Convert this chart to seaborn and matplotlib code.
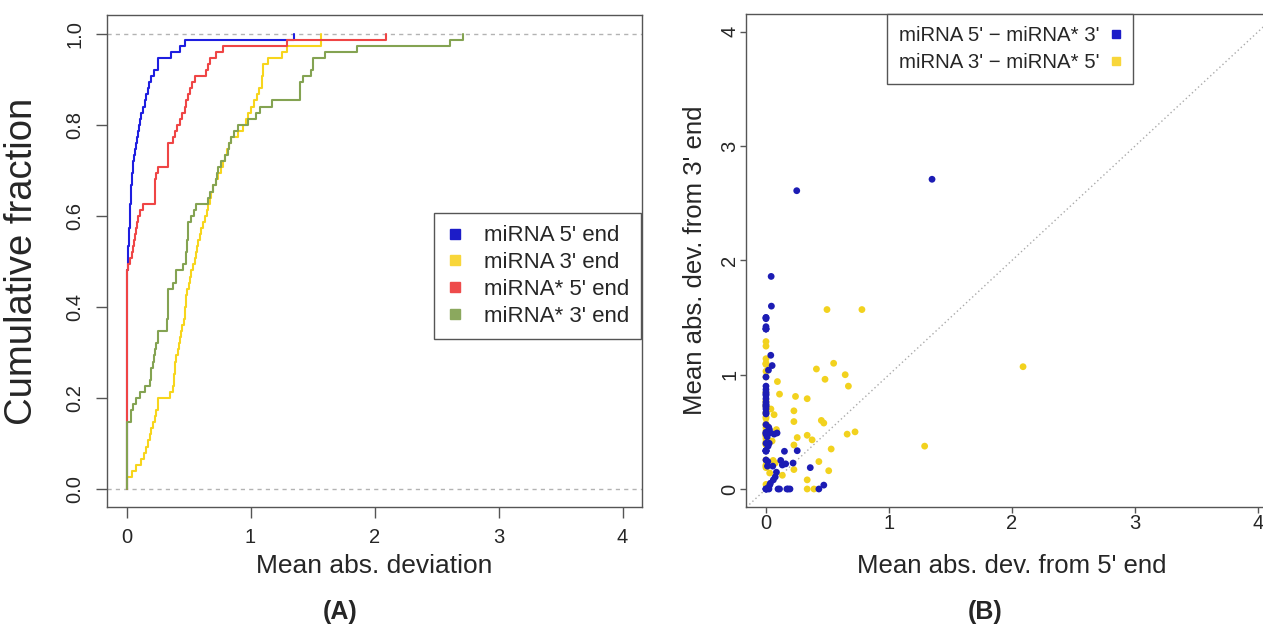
import pandas as pd
import seaborn as sns
import matplotlib.pyplot as plt
from matplotlib.lines import Line2D
from matplotlib.patches import Rectangle

# pair 1 (blue in B): miRNA 5' end vs miRNA* 3' end, one entry per hairpin
mirna5 = [1.35, 0.47, 0.43, 0.36, 0.254, 0.25, 0.22, 0.195, 0.18, 0.17,
          0.16, 0.15, 0.133, 0.12, 0.11, 0.098, 0.09, 0.085, 0.075, 0.066,
          0.06, 0.055, 0.05, 0.044, 0.042, 0.039, 0.036, 0.033, 0.03, 0.028,
          0.026, 0.024, 0.022, 0.02, 0.017, 0.015, 0.012, 0.01, 0.008, 0.005,
          0.0, 0.0, 0.0, 0.0, 0.0, 0.0, 0.0, 0.0, 0.0, 0.0,
          0.0, 0.0, 0.0, 0.0, 0.0, 0.0, 0.0, 0.0, 0.0, 0.0,
          0.0, 0.0, 0.0, 0.0, 0.0, 0.0, 0.0, 0.0, 0.0, 0.0,
          0.0, 0.0, 0.0, 0.0, 0.0]
mirna_star3 = [2.71, 0.034, 0.0, 0.187, 0.335, 2.61, 0.227, 0.0, 0.0, 0.0,
               0.22, 0.33, 0.21, 0.25, 0.0, 0.0, 0.49, 0.147, 0.106, 0.48,
               0.08, 0.2, 1.08, 1.6, 1.86, 1.17, 0.05, 0.493, 0.034, 0.52,
               0.40, 0.0, 0.54, 1.04, 0.375, 0.24, 0.2, 0.456, 0.0, 0.495,
               0.0, 0.0, 0.0, 0.254, 0.33, 0.335, 0.335, 0.335, 0.335, 0.40,
               0.48, 0.49, 0.496, 0.563, 0.657, 0.67, 0.70, 0.72, 0.73, 0.74,
               0.76, 0.79, 0.82, 0.83, 0.845, 0.87, 0.9, 0.98, 1.40, 1.40,
               1.40, 1.42, 1.49, 1.5, 1.5]

# pair 2 (yellow in B): miRNA* 5' end vs miRNA 3' end
mirna_star5 = [2.09, 1.29, 0.78, 0.724, 0.67, 0.66, 0.644, 0.55, 0.53, 0.51,
               0.496, 0.48, 0.47, 0.45, 0.43, 0.41, 0.39, 0.375, 0.335, 0.335,
               0.335, 0.335, 0.254, 0.24, 0.227, 0.227, 0.227, 0.227, 0.133, 0.11,
               0.093, 0.085, 0.075, 0.066, 0.058, 0.05, 0.04, 0.03, 0.012, 0.005,
               0.0, 0.0, 0.0, 0.0, 0.0, 0.0, 0.0, 0.0, 0.0, 0.0,
               0.0, 0.0, 0.0, 0.0, 0.0, 0.0, 0.0, 0.0, 0.0, 0.0,
               0.0, 0.0, 0.0, 0.0, 0.0, 0.0, 0.0, 0.0, 0.0, 0.0,
               0.0, 0.0, 0.0, 0.0, 0.0]
mirna3 = [1.07, 0.375, 1.57, 0.50, 0.90, 0.48, 1.0, 1.10, 0.35, 0.16,
          1.57, 0.96, 0.577, 0.60, 0.24, 1.05, 0.0, 0.43, 0.79, 0.47,
          0.08, 0.0, 0.45, 0.81, 0.684, 0.59, 0.385, 0.17, 0.12, 0.83,
          0.94, 0.52, 0.227, 0.65, 0.25, 0.42, 0.70, 0.14, 0.55, 0.38,
          0.04, 0.187, 0.2, 0.21, 0.254, 0.39, 0.39, 0.40, 0.415, 0.44,
          0.46, 0.47, 0.48, 0.49, 0.51, 0.536, 0.56, 0.57, 0.617, 0.63,
          0.66, 0.67, 0.72, 0.738, 0.76, 0.775, 0.845, 0.98, 1.03, 1.09,
          1.095, 1.10, 1.14, 1.25, 1.29]

end_labels = ["miRNA 5' end", "miRNA 3' end", "miRNA* 5' end", "miRNA* 3' end"]
end_colors = ["#1e1ee0", "#f7d51c", "#ef4545", "#84a352"]
key_colors = ["#1c1cc8", "#f8d63a", "#ee4b4b", "#8ba85e"]
pair_labels = ["miRNA 5' \u2212 miRNA* 3'", "miRNA 3' \u2212 miRNA* 5'"]
pair_colors = ["#1c1cb4", "#f2d21e"]

sns.set_style("white")
plt.rcParams["font.family"] = ["Liberation Sans", "DejaVu Sans"]

ends = pd.concat([
    pd.DataFrame({"dev": vals, "end": lab})
    for vals, lab in zip([mirna5, mirna3, mirna_star5, mirna_star3], end_labels)
], ignore_index=True)
pairs = pd.concat([
    pd.DataFrame({"x": mirna_star5, "y": mirna3, "pair": pair_labels[1]}),
    pd.DataFrame({"x": mirna5, "y": mirna_star3, "pair": pair_labels[0]}),
], ignore_index=True)

fig = plt.figure(figsize=(12.63, 6.33), dpi=100)
ax1 = fig.add_axes([0.0845, 0.1987, 0.4241, 0.7769])
ax2 = fig.add_axes([0.5909, 0.1986, 0.4207, 0.7800])

# ---- (A) cumulative distributions
ax1.axhline(0, color="#b3b3b3", lw=1, ls=(0, (3, 3)), zorder=0)
ax1.axhline(1, color="#b3b3b3", lw=1, ls=(0, (3, 3)), zorder=0)
sns.ecdfplot(data=ends, x="dev", hue="end", hue_order=end_labels[::-1],
             palette=dict(zip(end_labels, end_colors)), lw=1.5, legend=False, ax=ax1)
for ln in ax1.lines[2:]:
    ln.set_clip_path(Rectangle((-0.01, -1), 10, 3, transform=ax1.transData))
ax1.set_xlim(-0.16, 4.16)
ax1.set_ylim(-0.04, 1.04)
ax1.set_xticks([0, 1, 2, 3, 4])
ax1.set_yticks([0, 0.2, 0.4, 0.6, 0.8, 1.0])
ax1.set_yticklabels(["0.0", "0.2", "0.4", "0.6", "0.8", "1.0"])
ax1.set_xlabel("Mean abs. deviation", fontsize=19)
ax1.set_ylabel("Cumulative fraction", fontsize=27.5)
ax1.xaxis.set_label_coords(0.5, -0.095)
ax1.yaxis.set_label_coords(-0.124, 0.5)
handles = [Line2D([], [], ls="", marker="s", ms=7, color=c) for c in key_colors]
leg = ax1.legend(handles, end_labels, loc="upper right", bbox_to_anchor=(0.998, 0.598),
                 borderaxespad=0, fontsize=16, handlelength=0.8, handletextpad=0.9,
                 borderpad=0.55, labelspacing=0.26, fancybox=False, framealpha=1)
leg.get_frame().set_edgecolor("#555555")

# ---- (B) 5' vs 3' deviation
ax2.axline((0, 0), slope=1, color="#aaaaaa", lw=1, ls=(0, (1, 2)), zorder=0)
sns.scatterplot(data=pairs, x="x", y="y", hue="pair", palette=dict(zip(pair_labels, pair_colors)),
                s=24, linewidth=0, legend=False, ax=ax2)
ax2.set_xlim(-0.16, 4.16)
ax2.set_ylim(-0.16, 4.16)
ax2.set_xticks([0, 1, 2, 3, 4])
ax2.set_yticks([0, 1, 2, 3, 4])
ax2.set_xlabel("Mean abs. dev. from 5' end", fontsize=18.5)
ax2.set_ylabel("Mean abs. dev. from 3' end", fontsize=18.5)
ax2.xaxis.set_label_coords(0.5, -0.095)
ax2.yaxis.set_label_coords(-0.074, 0.5)
handles = [Line2D([], [], ls="", marker="s", ms=5.5, color=c) for c in ["#1c1cc8", "#f8d63a"]]
leg2 = ax2.legend(handles, pair_labels, loc="upper right", bbox_to_anchor=(0.727, 1.0),
                  borderaxespad=0, fontsize=14.7, markerfirst=False, handlelength=0.4,
                  handletextpad=0.6, borderpad=0.6, labelspacing=0.4, fancybox=False,
                  framealpha=1)
leg2.get_frame().set_edgecolor("#555555")

for ax in (ax1, ax2):
    for sp in ax.spines.values():
        sp.set_color("#555555")
        sp.set_linewidth(1)
    ax.tick_params(axis="both", direction="out", length=8, width=1, color="#555555",
                   labelsize=14.5, pad=7, bottom=True, left=True)
    ax.tick_params(axis="y", labelrotation=90, pad=8)
    for t in ax.get_yticklabels():
        t.set_va("center")
ax2.tick_params(axis="both", length=4, pad=1)

fig.text(0.269, 0.033, "(A)", fontsize=18, fontweight="bold", ha="center", va="center")
fig.text(0.78, 0.033, "(B)", fontsize=18, fontweight="bold", ha="center", va="center")

fig.savefig("out.png", dpi=100)
